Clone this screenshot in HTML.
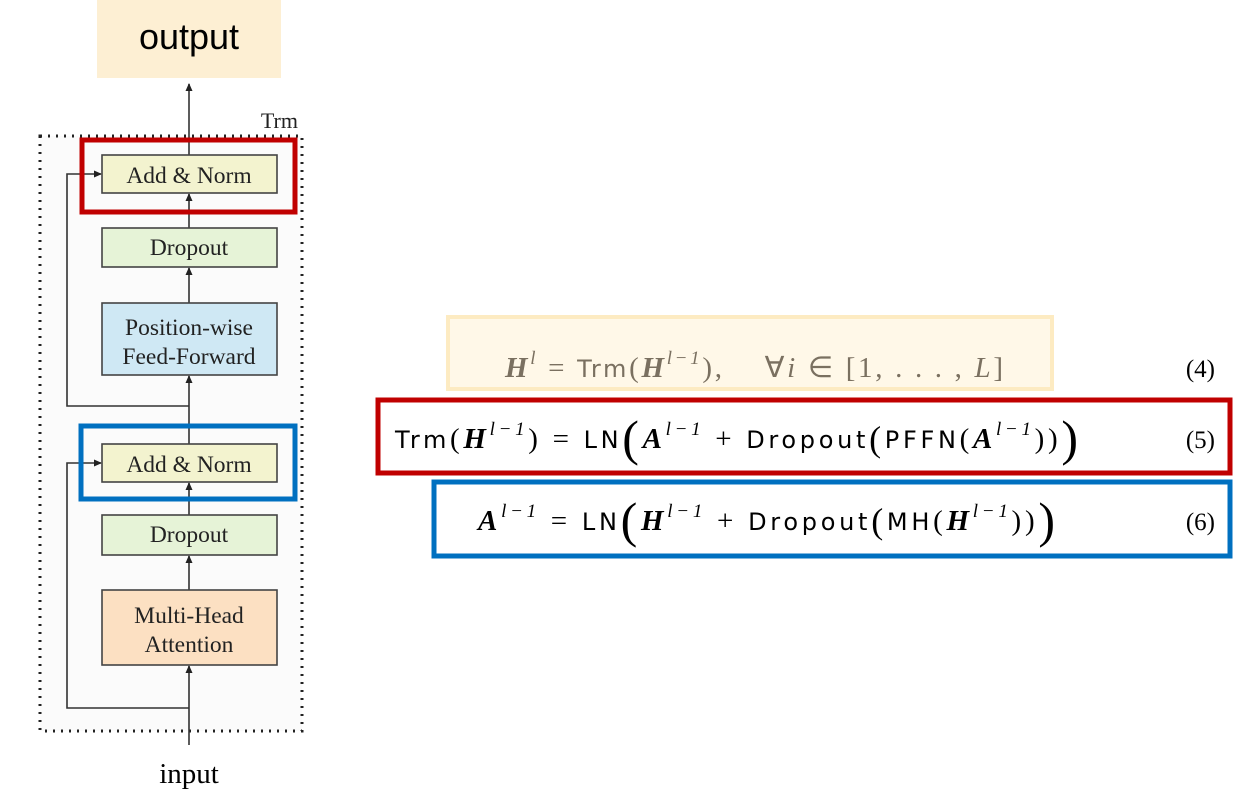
<!DOCTYPE html>
<html><head><meta charset="utf-8"><style>
html,body{margin:0;padding:0;background:#fff;}
svg{display:block;}
.s{font-family:"Liberation Serif",serif;}
.m{font-family:"DejaVu Sans","Liberation Sans",sans-serif;}
</style></head><body>
<svg width="1241" height="808" viewBox="0 0 1241 808" xmlns="http://www.w3.org/2000/svg">
<defs><marker id="a" markerWidth="8" markerHeight="8" refX="7" refY="4" orient="auto" markerUnits="userSpaceOnUse"><path d="M0,0.5 L8,4 L0,7.5 Z" fill="#222"/></marker></defs>
<rect x="97" y="0" width="184" height="78" fill="#fdefd3"/>
<text x="189" y="49" text-anchor="middle" font-family="Liberation Sans,sans-serif" font-size="36" fill="#000">output</text>
<rect x="40" y="136" width="262" height="595" fill="#fbfbfb" stroke="#222" stroke-width="3" stroke-dasharray="2,6"/>
<text x="298" y="128" text-anchor="end" class="s" font-size="22" fill="#222">Trm</text>
<g stroke="#333" stroke-width="1.6" fill="none">
<line x1="189" y1="155" x2="189" y2="84" marker-end="url(#a)"/>
<line x1="189" y1="228" x2="189" y2="194" marker-end="url(#a)"/>
<line x1="189" y1="303" x2="189" y2="268" marker-end="url(#a)"/>
<line x1="189" y1="444" x2="189" y2="376" marker-end="url(#a)"/>
<polyline points="189,406 67,406 67,174 101,174" marker-end="url(#a)"/>
<line x1="189" y1="515" x2="189" y2="483" marker-end="url(#a)"/>
<line x1="189" y1="590" x2="189" y2="556" marker-end="url(#a)"/>
<line x1="189" y1="745" x2="189" y2="666" marker-end="url(#a)"/>
<polyline points="189,708 67,708 67,463 101,463" marker-end="url(#a)"/>
</g>
<g stroke="#444" stroke-width="1.6">
<rect x="102" y="155" width="175" height="38" fill="#f3f3cf"/>
<rect x="102" y="228" width="175" height="39" fill="#e6f3d7"/>
<rect x="102" y="303" width="175" height="72" fill="#cfe8f4"/>
<rect x="102" y="444" width="175" height="38" fill="#f3f3cf"/>
<rect x="102" y="515" width="175" height="40" fill="#e6f3d7"/>
<rect x="102" y="590" width="175" height="75" fill="#fce0c2"/>
</g>
<g class="s" font-size="23.5" fill="#222" text-anchor="middle">
<text x="189" y="183">Add &amp; Norm</text>
<text x="189" y="255">Dropout</text>
<text x="189" y="335">Position-wise</text>
<text x="189" y="364">Feed-Forward</text>
<text x="189" y="472">Add &amp; Norm</text>
<text x="189" y="542">Dropout</text>
<text x="189" y="623">Multi-Head</text>
<text x="189" y="652">Attention</text>
<text x="189" y="783" font-size="29" fill="#000">input</text>
</g>
<rect x="82" y="140" width="213" height="72" fill="none" stroke="#c00000" stroke-width="5"/>
<rect x="81" y="426" width="214" height="73" fill="none" stroke="#0070c0" stroke-width="5"/>
<rect x="448" y="317" width="604" height="72" fill="#fff8e8" stroke="#fdebc2" stroke-width="4"/>
<text x="505" y="377" font-size="29" fill="#7a7060" textLength="498" lengthAdjust="spacing"><tspan class="s" font-style="italic" font-weight="bold">H</tspan><tspan class="s" font-style="italic" font-size="19" dy="-13">l</tspan><tspan class="s" dy="13"> = </tspan><tspan class="m" font-size="24">Trm</tspan><tspan class="s">(</tspan><tspan class="s" font-style="italic" font-weight="bold">H</tspan><tspan class="s" font-style="italic" font-size="19" dy="-13">l−1</tspan><tspan class="s" dy="13">),</tspan><tspan class="s" dx="40">∀</tspan><tspan class="s" font-style="italic">i</tspan><tspan class="s"> ∈ [1, . . . , </tspan><tspan class="s" font-style="italic">L</tspan><tspan class="s">]</tspan></text>
<text x="1215" y="377" text-anchor="end" class="s" font-size="25" fill="#000">(4)</text>
<rect x="378" y="400" width="852" height="73" fill="#fff" stroke="#c00000" stroke-width="5"/>
<text x="395" y="448" font-size="29" fill="#000" textLength="683" lengthAdjust="spacing"><tspan class="m" font-size="24">Trm</tspan><tspan class="s">(</tspan><tspan class="s" font-style="italic" font-weight="bold">H</tspan><tspan class="s" font-style="italic" font-size="19" dy="-13">l−1</tspan><tspan class="s" dy="13">) = </tspan><tspan class="m" font-size="24">LN</tspan><tspan class="s" font-size="50" dy="7">(</tspan><tspan class="s" font-style="italic" font-weight="bold" dy="-7">A</tspan><tspan class="s" font-style="italic" font-size="19" dy="-13">l−1</tspan><tspan class="s" dy="13"> + </tspan><tspan class="m" font-size="24">Dropout</tspan><tspan class="s" font-size="36" dy="3">(</tspan><tspan class="m" font-size="24" dy="-3">PFFN</tspan><tspan class="s">(</tspan><tspan class="s" font-style="italic" font-weight="bold">A</tspan><tspan class="s" font-style="italic" font-size="19" dy="-13">l−1</tspan><tspan class="s" dy="13">))</tspan><tspan class="s" font-size="50" dy="7">)</tspan></text>
<text x="1215" y="448" text-anchor="end" class="s" font-size="25" fill="#000">(5)</text>
<rect x="434" y="482" width="796" height="74" fill="#fff" stroke="#0070c0" stroke-width="5"/>
<text x="478" y="530" font-size="29" fill="#000" textLength="577" lengthAdjust="spacing"><tspan class="s" font-style="italic" font-weight="bold">A</tspan><tspan class="s" font-style="italic" font-size="19" dy="-13">l−1</tspan><tspan class="s" dy="13"> = </tspan><tspan class="m" font-size="24">LN</tspan><tspan class="s" font-size="50" dy="7">(</tspan><tspan class="s" font-style="italic" font-weight="bold" dy="-7">H</tspan><tspan class="s" font-style="italic" font-size="19" dy="-13">l−1</tspan><tspan class="s" dy="13"> + </tspan><tspan class="m" font-size="24">Dropout</tspan><tspan class="s" font-size="36" dy="3">(</tspan><tspan class="m" font-size="24" dy="-3">MH</tspan><tspan class="s">(</tspan><tspan class="s" font-style="italic" font-weight="bold">H</tspan><tspan class="s" font-style="italic" font-size="19" dy="-13">l−1</tspan><tspan class="s" dy="13">))</tspan><tspan class="s" font-size="50" dy="7">)</tspan></text>
<text x="1215" y="530" text-anchor="end" class="s" font-size="25" fill="#000">(6)</text>
</svg>
</body></html>
